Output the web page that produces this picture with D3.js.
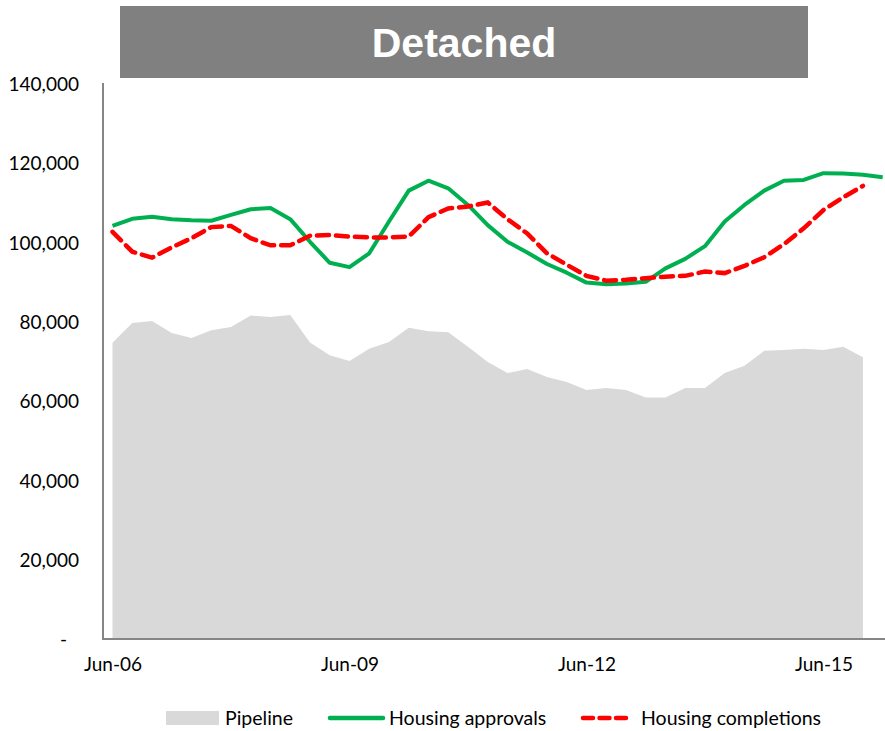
<!DOCTYPE html>
<html>
<head>
<meta charset="utf-8">
<script src="https://cdn.jsdelivr.net/npm/d3@7"></script>
<style>
  body { margin: 0; background: #fff; }
  text { font-family: Lato, "Open Sans", sans-serif; fill: #000; }
</style>
</head>
<body>
<div id="plot"></div>
<script>
// Quarterly data, Jun-06 .. Mar-16
var quarters = ["Jun-06","Sep-06","Dec-06","Mar-07","Jun-07","Sep-07","Dec-07","Mar-08",
  "Jun-08","Sep-08","Dec-08","Mar-09","Jun-09","Sep-09","Dec-09","Mar-10",
  "Jun-10","Sep-10","Dec-10","Mar-11","Jun-11","Sep-11","Dec-11","Mar-12",
  "Jun-12","Sep-12","Dec-12","Mar-13","Jun-13","Sep-13","Dec-13","Mar-14",
  "Jun-14","Sep-14","Dec-14","Mar-15","Jun-15","Sep-15","Dec-15","Mar-16"];

var pipeline = [74700, 79700, 80200, 77200, 75900, 77900, 78700, 81600, 81200, 81700,
  74800, 71600, 70100, 73200, 74900, 78500, 77600, 77400, 73700, 69900,
  67100, 68100, 66100, 64800, 62800, 63300, 62800, 60900, 60900, 63300,
  63300, 67100, 68900, 72700, 72900, 73200, 72900, 73700, 71100];

var approvals = [104200, 106000, 106500, 105900, 105600, 105500, 107000, 108400, 108700, 105900,
  100200, 94900, 93800, 97300, 105300, 113100, 115600, 113700, 109500, 104400,
  100200, 97500, 94600, 92400, 89900, 89500, 89700, 90100, 93500, 95900,
  99100, 105300, 109500, 113100, 115600, 115800, 117500, 117400, 117100, 116500];

var completions = [102700, 97700, 96200, 98800, 101100, 103900, 104200, 101100, 99300, 99300,
  101700, 101900, 101500, 101300, 101300, 101500, 106400, 108600, 109100, 110100,
  105900, 102300, 97300, 94400, 91600, 90400, 90600, 91000, 91400, 91600,
  92700, 92300, 94100, 96300, 99600, 103600, 108200, 111400, 114300];

var yTicks = [0, 20000, 40000, 60000, 80000, 100000, 120000, 140000];
var xTickIdx = [0, 12, 24, 36];

var svgWidth = 885;
var svgHeight = 731;

var svg = d3.select("#plot")
  .append("svg")
  .attr("width", svgWidth)
  .attr("height", svgHeight);

// title banner
svg.append("rect")
  .attr("x", 120).attr("y", 6)
  .attr("width", 688).attr("height", 72)
  .attr("fill", "#808080");
svg.append("text")
  .attr("x", 464).attr("y", 57)
  .attr("text-anchor", "middle")
  .style("font-family", "'Liberation Sans', Arial, sans-serif")
  .style("font-weight", "bold")
  .style("font-size", "41px")
  .style("fill", "#fff")
  .text("Detached");

var xScale = d3.scaleLinear()
  .domain([0, 39])
  .range([112.5, 882.7]);

var yScale = d3.scaleLinear()
  .domain([0, 140000])
  .range([639, 84]);

// pipeline area
var area = d3.area()
  .x((d, i) => xScale(i))
  .y0(yScale(0))
  .y1(d => yScale(d));

svg.append("path")
  .datum(pipeline)
  .attr("d", area)
  .attr("fill", "#d9d9d9");

// axes
var leftAxis = d3.axisLeft(yScale)
  .tickValues(yTicks)
  .tickSize(0)
  .tickPadding(24)
  .tickFormat(d => d === 0 ? "-" : d3.format(",")(d));

var yG = svg.append("g")
  .attr("transform", "translate(103,0)")
  .call(leftAxis);
yG.select(".domain").remove();
yG.selectAll("text").style("font-size", "19px").attr("dy", "0.35em");
yG.selectAll("text").filter(d => d === 0).attr("dx", "-12px");

var bottomAxis = d3.axisBottom(xScale)
  .tickValues(xTickIdx)
  .tickSize(0)
  .tickPadding(19)
  .tickFormat(i => quarters[i]);

var xG = svg.append("g")
  .attr("transform", "translate(0,639)")
  .call(bottomAxis);
xG.select(".domain").remove();
xG.selectAll("text").style("font-size", "19px");

svg.append("line")
  .attr("x1", 103).attr("x2", 103)
  .attr("y1", 83).attr("y2", 640)
  .attr("stroke", "#868686").attr("stroke-width", 2);
svg.append("line")
  .attr("x1", 102).attr("x2", 885)
  .attr("y1", 639).attr("y2", 639)
  .attr("stroke", "#868686").attr("stroke-width", 2);

// lines
var line = d3.line()
  .x((d, i) => xScale(i))
  .y(d => yScale(d));

svg.append("path")
  .datum(approvals)
  .attr("d", line)
  .attr("fill", "none")
  .attr("stroke", "#00b050")
  .attr("stroke-width", 4)
  .attr("stroke-linejoin", "round");

svg.append("path")
  .datum(completions)
  .attr("d", line)
  .attr("fill", "none")
  .attr("stroke", "#ff0000")
  .attr("stroke-width", 4.5)
  .attr("stroke-dasharray", "12,7")
  .attr("stroke-linecap", "round");

// legend
var legend = svg.append("g").attr("transform", "translate(0,718)");
legend.append("rect")
  .attr("x", 166).attr("y", -7)
  .attr("width", 53).attr("height", 14)
  .attr("fill", "#d9d9d9");
legend.append("text").attr("x", 225).attr("dy", "0.35em")
  .style("font-size", "19.5px").text("Pipeline");

legend.append("line")
  .attr("x1", 330).attr("x2", 383)
  .attr("stroke", "#00b050").attr("stroke-width", 4.5)
  .attr("stroke-linecap", "round");
legend.append("text").attr("x", 389).attr("dy", "0.35em")
  .style("font-size", "19.5px").text("Housing approvals");

legend.append("line")
  .attr("x1", 583).attr("x2", 630)
  .attr("stroke", "#ff0000").attr("stroke-width", 4.5)
  .attr("stroke-dasharray", "10,6.5")
  .attr("stroke-linecap", "round");
legend.append("text").attr("x", 641).attr("dy", "0.35em")
  .style("font-size", "19.5px").text("Housing completions");
</script>
</body>
</html>
